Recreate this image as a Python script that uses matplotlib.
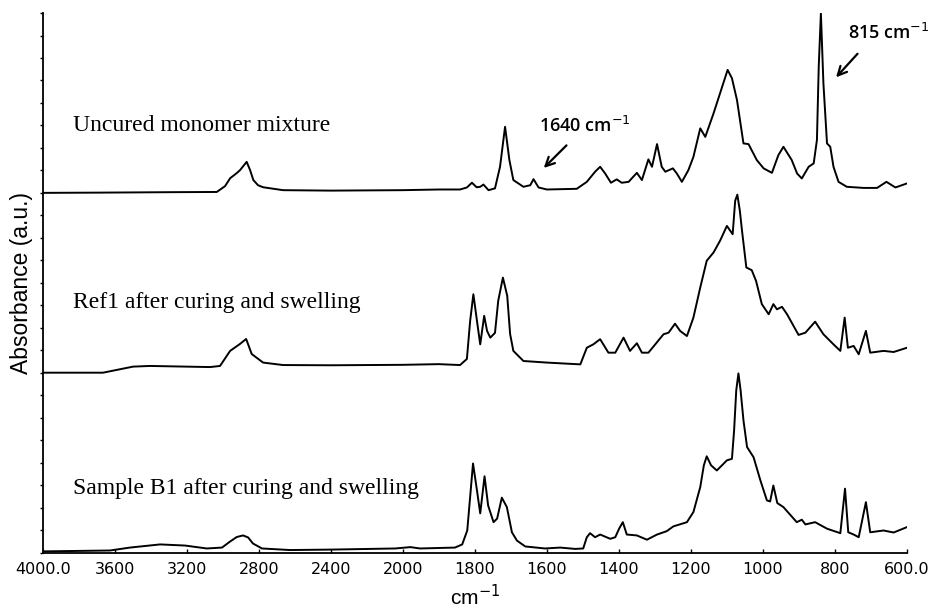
import matplotlib
matplotlib.use('Agg')
import matplotlib.pyplot as plt
import numpy as np

# FTIR スペクトル (3本を縦にずらして表示)
wn_uncured = [4000, 3700, 3300, 3033, 2987, 2959, 2922, 2904, 2867, 2848, 2830, 2804, 2776, 2665,
              2400, 2000, 1900, 1841, 1822, 1808, 1795, 1785, 1776, 1762, 1744, 1730, 1716, 1704,
              1693, 1665, 1646, 1637, 1623, 1600, 1517, 1489, 1466, 1452, 1438, 1422, 1406, 1392,
              1373, 1350, 1336, 1318, 1308, 1294, 1281, 1271, 1250, 1239, 1225, 1207, 1193, 1174,
              1160, 1137, 1119, 1098, 1086, 1072, 1054, 1040, 1017, 998, 975, 957, 943, 920, 905,
              892, 873, 859, 850, 845, 839, 832, 822, 813, 804, 790, 767, 720, 683, 657, 632, 600]
abs_uncured = [0.0, 0.01, 0.03, 0.04, 0.3, 0.65, 0.88, 1.01, 1.38, 1.01, 0.57, 0.34, 0.25, 0.12,
               0.1, 0.12, 0.15, 0.15, 0.24, 0.45, 0.25, 0.27, 0.37, 0.12, 0.2, 1.16, 2.94, 1.46,
               0.57, 0.27, 0.34, 0.61, 0.24, 0.15, 0.18, 0.49, 0.94, 1.16, 0.86, 0.45, 0.6, 0.45,
               0.49, 0.89, 0.57, 1.49, 1.16, 2.17, 1.16, 0.94, 1.09, 0.86, 0.49, 1.01, 1.6, 2.87,
               2.49, 3.54, 4.43, 5.47, 5.1, 4.13, 2.2, 2.17, 1.46, 1.09, 0.89, 1.68, 2.05, 1.46, 0.86,
               0.64, 1.16, 1.31, 2.35, 5.61, 7.99, 4.87, 2.2, 2.05, 1.16, 0.49, 0.27, 0.22, 0.22, 0.49,
               0.24, 0.42]

wn_ref1 = [4000, 3665, 3498, 3404, 3070, 3015, 2959, 2904, 2870, 2839, 2776, 2665, 2400, 2000,
           1900, 1841, 1822, 1813, 1804, 1794, 1785, 1774, 1766, 1757, 1744, 1735, 1722, 1710,
           1702, 1693, 1665, 1600, 1507, 1489, 1471, 1452, 1429, 1410, 1387, 1369, 1350, 1336,
           1318, 1299, 1276, 1262, 1244, 1230, 1211, 1193, 1174, 1156, 1137, 1119, 1100, 1084,
           1077, 1071, 1064, 1058, 1046, 1031, 1019, 1003, 984, 971, 961, 947, 933, 901, 882, 855,
           832, 804, 785, 773, 764, 748, 734, 714, 702, 665, 637, 600]
abs_ref1 = [0.0, 0.0, 0.27, 0.3, 0.25, 0.3, 0.97, 1.28, 1.5, 0.83, 0.45, 0.34, 0.33, 0.35,
            0.38, 0.34, 0.61, 2.3, 3.49, 2.3, 1.26, 2.53, 1.86, 1.56, 1.77, 3.2, 4.23, 3.42,
            1.72, 0.97, 0.52, 0.45, 0.37, 1.11, 1.26, 1.49, 0.89, 0.89, 1.56, 0.97, 1.31, 0.89,
            0.89, 1.26, 1.71, 1.78, 2.18, 1.86, 1.63, 2.45, 3.79, 4.98, 5.35, 5.87, 6.53, 6.16,
            7.65, 7.92, 7.2, 6.31, 4.68, 4.56, 4.08, 3.05, 2.6, 3.05, 2.82, 2.93, 2.6, 1.68, 1.78,
            2.27, 1.71, 1.26, 0.97, 2.45, 1.11, 1.19, 0.82, 1.86, 0.89, 0.97, 0.92, 1.11]

wn_b1 = [4000, 3626, 3515, 3348, 3209, 3089, 3004, 2959, 2922, 2887, 2859, 2832, 2782, 2626,
         2400, 2042, 1979, 1952, 1855, 1835, 1821, 1805, 1794, 1785, 1773, 1763, 1748, 1738,
         1725, 1711, 1697, 1683, 1660, 1605, 1563, 1521, 1499, 1489, 1480, 1466, 1452, 1424,
         1410, 1399, 1389, 1378, 1350, 1322, 1294, 1267, 1249, 1211, 1193, 1174, 1164, 1156,
         1144, 1128, 1100, 1086, 1080, 1074, 1068, 1062, 1054, 1044, 1026, 1007, 989, 980, 971,
         960, 943, 906, 892, 882, 855, 822, 785, 772, 763, 748, 734, 714, 702, 665, 637, 600]
abs_b1 = [0.05, 0.09, 0.22, 0.36, 0.31, 0.18, 0.22, 0.49, 0.69, 0.76, 0.67, 0.4, 0.18, 0.11,
          0.13, 0.18, 0.24, 0.18, 0.22, 0.36, 0.98, 3.96, 2.76, 1.74, 3.39, 2.09, 1.35, 1.51,
          2.44, 2.02, 0.9, 0.53, 0.27, 0.18, 0.22, 0.16, 0.18, 0.68, 0.86, 0.68, 0.8, 0.61,
          0.68, 1.07, 1.35, 0.8, 0.76, 0.57, 0.8, 0.95, 1.16, 1.35, 1.8, 2.91, 3.88, 4.28,
          3.88, 3.65, 4.1, 4.17, 5.43, 7.22, 7.97, 7.22, 5.88, 4.69, 4.24, 3.21, 2.32, 2.27, 2.98,
          2.2, 2.02, 1.35, 1.46, 1.25, 1.35, 1.06, 0.86, 2.84, 0.9, 0.8, 0.68, 2.24, 0.9, 0.98,
          0.89, 1.13]

labels = ['Uncured monomer mixture', 'Ref1 after curing and swelling',
          'Sample B1 after curing and swelling']
offsets = [16, 8, 0]
label_y = [18.76, 10.89, 2.59]

xticks = [4000, 3600, 3200, 2800, 2400, 2000, 1800, 1600, 1400, 1200, 1000, 800, 600]
xticklabels = ['4000.0', '3600', '3200', '2800', '2400', '2000', '1800', '1600', '1400',
               '1200', '1000', '800', '600.0']


# 2000 cm-1 より上は目盛を半分に縮める
def fwd(x):
    x = np.asarray(x, dtype=float)
    return np.where(x > 2000, 2000 + (x - 2000) / 2, x)


def inv(s):
    s = np.asarray(s, dtype=float)
    return np.where(s > 2000, 2000 + (s - 2000) * 2, s)


fig = plt.figure(figsize=(9.42, 6.15), dpi=100)
ax = fig.add_axes([0.0453, 0.1016, 0.9175, 0.8772])
ax.set_xscale('function', functions=(fwd, inv))

spectra = [(wn_uncured, abs_uncured), (wn_ref1, abs_ref1), (wn_b1, abs_b1)]
for (wn, a), off, lab, ly in zip(spectra, offsets, labels, label_y):
    ax.plot(wn, np.array(a) + off, color='black', lw=1.4)
    ax.text(3830, ly, lab, family='Liberation Serif', fontsize=17, va='baseline', ha='left')

ax.set_xlim(4000, 600)
ax.set_ylim(0, 24)

ax.set_xticks(xticks)
ax.set_xticklabels(xticklabels, family='DejaVu Sans', fontsize=11.5)
ax.tick_params(axis='x', direction='in', length=3, width=1, pad=7)
ax.set_yticks(np.arange(0, 25, 1))
ax.set_yticklabels([])
ax.tick_params(axis='y', direction='out', length=2.5, width=1)

for side in ['top', 'right']:
    ax.spines[side].set_visible(False)
for side in ['left', 'bottom']:
    ax.spines[side].set_linewidth(1.3)

ax.set_xlabel('cm$^{-1}$', family='Liberation Sans', fontsize=15, labelpad=5)
ax.set_ylabel('Absorbance (a.u.)', family='Liberation Sans', fontsize=16.5, labelpad=1)

# バンドの注釈
ax.annotate('', xy=(1614, 17.02), xytext=(1540, 18.2),
            arrowprops=dict(arrowstyle='->', lw=1.6, color='black', mutation_scale=16))
ax.text(1496, 18.97, '1640 cm$^{-1}$', family='Open Sans', fontsize=13, ha='center', va='center',
        weight='semibold')
ax.annotate('', xy=(802, 21.05), xytext=(732, 22.28),
            arrowprops=dict(arrowstyle='->', lw=1.6, color='black', mutation_scale=16))
ax.text(652, 23.11, '815 cm$^{-1}$', family='Open Sans', fontsize=13, ha='center', va='center',
        weight='semibold')

fig.savefig('out.png', dpi=100)
